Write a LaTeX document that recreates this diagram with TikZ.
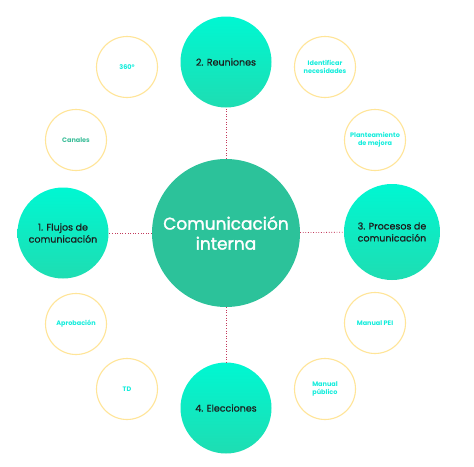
\documentclass[tikz,border=0pt]{standalone}
\usepackage{fontspec}
\setmainfont{Poppins}
\newfontfamily\hubfont{Poppins}[FakeBold=1.6]
\newfontfamily\spokefont{Poppins}[FakeBold=0.5]
\begin{document}
\definecolor{hub}{HTML}{2CC29A}
\definecolor{spoketop}{HTML}{00F7D2}
\definecolor{spokebot}{HTML}{1EDDB2}
\definecolor{ring}{HTML}{FFE598}
\definecolor{leaftext}{HTML}{14EDDC}
\definecolor{leafgreen}{HTML}{3DBE9A}
\definecolor{link}{HTML}{C23A5C}
\definecolor{ink}{HTML}{1C1C1C}
\begin{tikzpicture}[x=1pt,y=-1pt,
  hubnode/.style={circle,fill=hub,minimum size=148pt,inner sep=0pt,align=center,
    text=white,font=\hubfont\fontsize{17}{20}\selectfont},
  spokenode/.style={circle,top color=spoketop,bottom color=spokebot,draw=none,
    minimum size=91pt,inner sep=0pt,align=center,text=ink,
    font=\spokefont\fontsize{9.5}{12}\selectfont},
  leafnode/.style={circle,draw=ring,line width=1.1pt,minimum size=61pt,inner sep=0pt,
    align=center,text=leaftext,font=\bfseries\fontsize{6.5}{7.5}\selectfont},
  linkline/.style={draw=link,line width=0.8pt,dash pattern=on 0.8pt off 1.8pt}]
\useasboundingbox (0,0) rectangle (474,466);
\fill[white] (0,0) rectangle (474,466);

% centre
\node[hubnode] (hub) at (226,233) {Comunicación\\interna};

% four main branches
\node[spokenode] (s2) at (226,62) {2. Reuniones};
\node[spokenode] (s1) at (63,233) {1. Flujos de\\comunicación};
\node[spokenode,minimum size=96pt] (s3) at (392,232) {3. Procesos de\\comunicación};
\node[spokenode] (s4) at (226,408) {4. Elecciones};

% dotted links to the centre
\draw[linkline] (hub) -- (s2);
\draw[linkline] (hub) -- (s1);
\draw[linkline] (hub) -- (s3);
\draw[linkline] (hub) -- (s4);

% outer ring of topics
\node[leafnode] (l360) at (127,67) {360°};
\node[leafnode,text=leafgreen] (lcan) at (76,140) {Canales};
\node[leafnode] (lide) at (325,67) {Identificar\\necesidades};
\node[leafnode] (lpla) at (375,140) {Planteamiento\\de mejora};
\node[leafnode] (lapr) at (76,324) {Aprobación};
\node[leafnode] (ltd) at (127,389) {TD};
\node[leafnode] (lpei) at (375,323) {Manual PEI};
\node[leafnode] (lpub) at (325,389) {Manual\\público};
\end{tikzpicture}
\end{document}
